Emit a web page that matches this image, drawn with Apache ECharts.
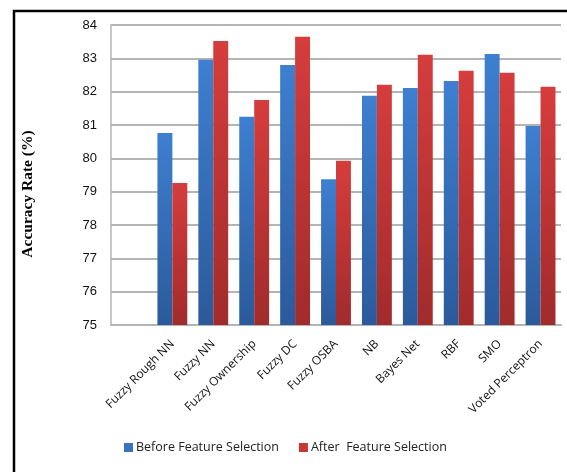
<!DOCTYPE html>
<html>
<head>
<meta charset="utf-8">
<script src="https://cdn.jsdelivr.net/npm/echarts@6/dist/echarts.min.js"></script>
<style>
  html, body { margin: 0; padding: 0; background: #fff; }
  #chart { width: 567px; height: 472px; }
</style>
</head>
<body>
<div id="chart"></div>
<script>
// Classifiers (the leading blank slot leaves an empty band at the start of the axis)
const categories = ['', 'Fuzzy Rough NN', 'Fuzzy NN', 'Fuzzy Ownership', 'Fuzzy DC', 'Fuzzy OSBA',
  'NB', 'Bayes Net', 'RBF', 'SMO', 'Voted Perceptron'];
const beforeFS = [null, 80.76, 82.96, 81.25, 82.80, 79.37, 81.88, 82.11, 82.32, 83.13, 80.97];
const afterFS  = [null, 79.26, 83.52, 81.75, 83.65, 79.93, 82.21, 83.11, 82.63, 82.57, 82.15];
const yTicks = [75, 76, 77, 78, 79, 80, 81, 82, 83, 84];

const chart = echarts.init(document.getElementById('chart'), null, { renderer: 'canvas' });

function vGrad(top, bottom) {
  return new echarts.graphic.LinearGradient(0, 0, 0, 1, [
    { offset: 0, color: top },
    { offset: 1, color: bottom }
  ]);
}

const option = {
  backgroundColor: '#ffffff',
  animation: false,
  grid: { left: 111, right: 6, top: 25, bottom: 147, containLabel: false },
  legend: {
    left: 119,
    top: 436,
    itemWidth: 9,
    itemHeight: 9,
    itemGap: 20,
    icon: 'rect',
    textStyle: { fontFamily: 'Open Sans', fontSize: 12.5, color: '#222', padding: [0, 0, 0, -2] },
    data: [
      { name: 'Before Feature Selection', itemStyle: { color: '#3872c0' } },
      { name: 'After  Feature Selection', itemStyle: { color: '#c83535' } }
    ]
  },
  xAxis: {
    type: 'category',
    data: categories,
    axisLine: { show: true, lineStyle: { color: '#b4b4b4', width: 2 } },
    axisTick: { show: false },
    axisLabel: {
      interval: 0,
      rotate: 45,
      margin: 17,
      fontFamily: 'Open Sans',
      fontSize: 12,
      color: '#111'
    }
  },
  yAxis: {
    type: 'value',
    min: yTicks[0],
    max: yTicks[yTicks.length - 1],
    interval: 1,
    axisLine: { show: true, lineStyle: { color: '#b4b4b4', width: 1.5 } },
    axisTick: { show: false },
    axisLabel: {
      margin: 14,
      fontFamily: 'Liberation Sans',
      fontSize: 13,
      color: '#111'
    },
    splitLine: { lineStyle: { color: '#b4b4b4', width: 2 } }
  },
  series: [
    {
      name: 'Before Feature Selection',
      type: 'bar',
      data: beforeFS,
      barGap: '0%',
      barCategoryGap: '27%',
      itemStyle: { color: vGrad('#3e7fd0', '#2b5a9b') }
    },
    {
      name: 'After  Feature Selection',
      type: 'bar',
      data: afterFS,
      barGap: '0%',
      barCategoryGap: '27%',
      itemStyle: { color: vGrad('#d63d3d', '#a12b2b') }
    }
  ],
  graphic: [
    {
      type: 'rect',
      shape: { x: 14, y: 11, width: 600, height: 520 },
      style: { fill: 'none', stroke: '#000', lineWidth: 2.5 },
      silent: true,
      z: 100
    },
    {
      type: 'text',
      x: 28,
      y: 194,
      rotation: Math.PI / 2,
      style: {
        text: 'Accuracy Rate (%)',
        fontFamily: 'Liberation Serif',
        fontWeight: 'bold',
        fontSize: 15.5,
        fill: '#000',
        align: 'center',
        verticalAlign: 'middle'
      }
    }
  ]
};

chart.setOption(option);
</script>
</body>
</html>
